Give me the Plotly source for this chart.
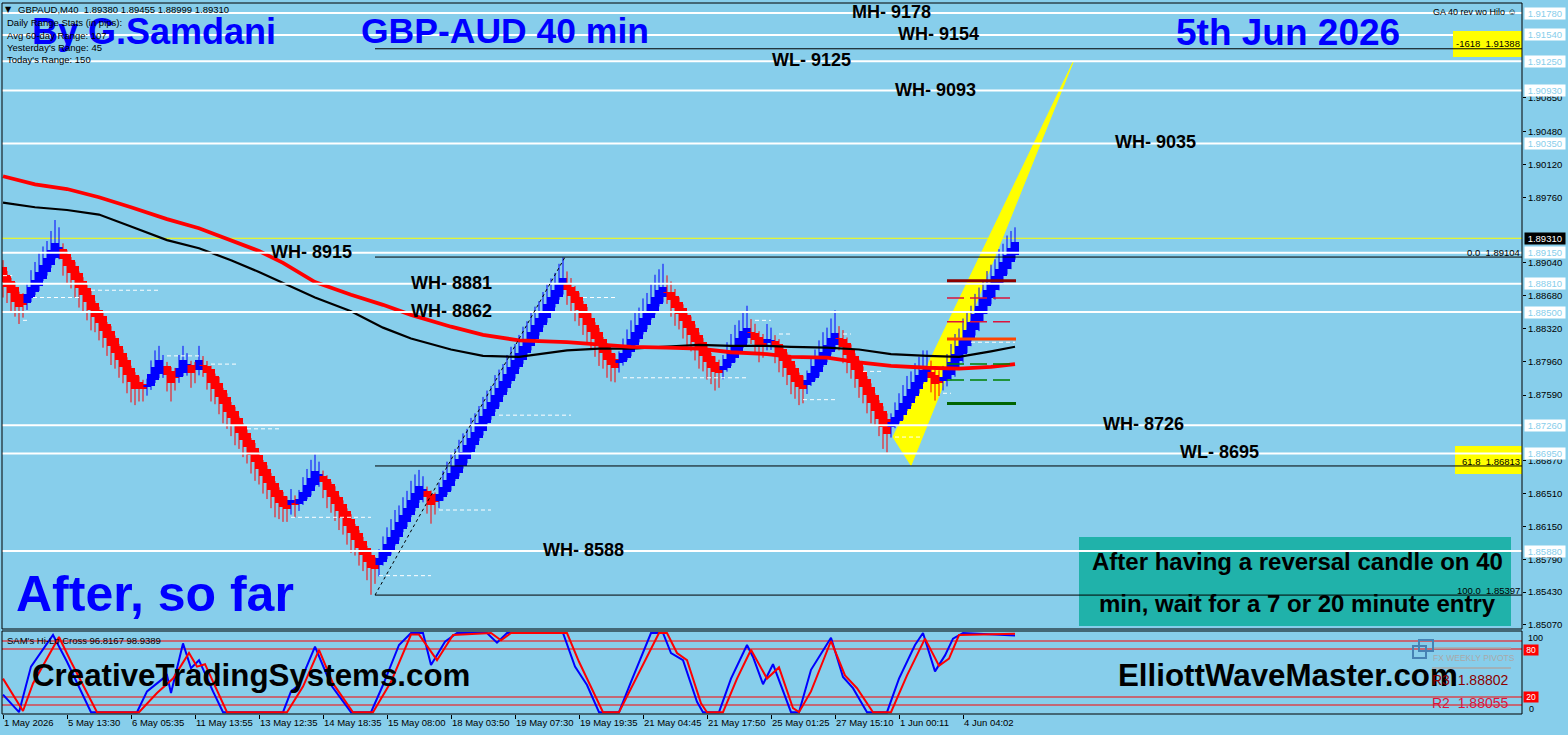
import plotly.graph_objects as go

W, H = 1568, 735

# ======================= DATA =======================
# x-axis (bar index) tick labels
tick_bars = [0, 16, 32, 48, 64, 80, 96, 112, 128, 144, 160, 176, 192, 208, 224, 240]
tick_labels = ["1 May 2026", "5 May 13:30", "6 May 05:35", "11 May 13:55", "13 May 12:35",
               "14 May 18:35", "15 May 08:00", "18 May 03:50", "19 May 07:30", "19 May 19:35",
               "21 May 04:45", "21 May 17:50", "25 May 01:25", "27 May 15:10", "1 Jun 00:11",
               "4 Jun 04:02"]

# Heiken-Ashi style candles, prices in pips above 1.00000 (8915 -> 1.89150)
ha_open_first = 8899
ha_close = [
    8883, 8878, 8871, 8861, 8856, 8858,
    8870, 8878, 8885, 8894, 8902, 8909, 8918, 8926, 8921,
    8908, 8901, 8893, 8885, 8876, 8869, 8861, 8852, 8845, 8838,
    8829, 8822, 8813, 8805, 8797, 8790, 8781, 8773, 8766,
    8768, 8766,
    8769, 8782, 8790, 8797, 8791,
    8781, 8772, 8778,
    8789, 8797, 8793,
    8783, 8786,
    8797,
    8791,
    8783, 8772, 8766, 8757, 8749, 8740, 8734, 8726, 8717, 8710,
    8702, 8693, 8686, 8678, 8670, 8663, 8655, 8647, 8641, 8636, 8634,
    8644, 8639,
    8645, 8653, 8660, 8668, 8676, 8672,
    8664, 8655, 8647, 8640, 8632, 8624, 8615, 8608, 8600, 8591, 8584, 8576, 8569, 8568,
    8580, 8588, 8596, 8603, 8611, 8620, 8627, 8635, 8644, 8652, 8659,
    8656,
    8647, 8638, 8642,
    8651, 8658, 8666, 8674, 8681, 8689, 8697, 8704, 8712, 8719,
    8728, 8736, 8744, 8751, 8759, 8767, 8774, 8782, 8790, 8797,
    8805, 8813, 8821, 8828, 8836, 8844, 8851, 8859, 8867, 8874,
    8882, 8887,
    8874, 8868, 8860, 8852, 8844, 8836, 8828, 8821, 8813, 8805, 8797, 8792, 8789,
    8797, 8805, 8813, 8821, 8828, 8836, 8844, 8851, 8859, 8867, 8874, 8878,
    8871, 8863, 8855, 8848, 8840, 8833, 8825, 8817, 8810, 8802, 8795, 8789, 8784, 8783,
    8791, 8799, 8806, 8814, 8822, 8829, 8833,
    8827, 8819, 8813, 8814,
    8821, 8819,
    8812, 8804, 8796, 8789, 8781, 8773, 8768, 8766,
    8776, 8783, 8791, 8799, 8806, 8814, 8822, 8827,
    8820, 8812, 8803, 8794, 8786, 8777, 8768, 8759, 8750, 8742, 8733, 8724, 8716,
    8729, 8735, 8743, 8750, 8758, 8766, 8773, 8781, 8786, 8790,
    8778, 8771, 8772,
    8779, 8786, 8795, 8804, 8813, 8822, 8830, 8839, 8848, 8857,
    8866, 8874, 8882, 8890, 8897, 8905, 8913, 8920, 8927,
]
# wick extent beyond the body (pips)
wick_up = [
    8, 4, 3, 5, 3, 8,
    12, 18, 20, 22, 20, 19, 21, 25, 22,
    6, 4, 3, 5, 2, 4, 3, 5, 2, 3, 4, 2, 5, 3, 2, 4, 3, 2, 3,
    6, 5,
    8, 15, 18, 16, 12,
    5, 4, 10,
    14, 16, 12,
    5, 8,
    16,
    10,
    5, 4, 3, 6, 2, 4, 3, 5, 2, 3, 4, 2, 5, 3, 2, 4, 3, 2, 3, 5, 6,
    12, 8,
    10, 16, 18, 20, 18, 14,
    6, 4, 3, 5, 2, 4, 3, 5, 2, 3, 4, 2, 3, 5,
    10, 16, 18, 20, 22, 18, 20, 19, 21, 20, 18,
    14,
    5, 4, 8,
    12, 18, 20, 22, 19, 21, 20, 18, 22, 20, 19, 21, 20, 18, 22, 20, 19, 21, 22, 18,
    20, 21, 19, 22, 20, 18, 21, 22, 20, 19, 21, 23,
    14, 10, 6, 5, 3, 4, 5, 3, 4, 2, 3, 5, 6,
    10, 16, 18, 20, 22, 19, 21, 20, 22, 24, 23, 25,
    18, 12, 8, 5, 4, 3, 5, 4, 3, 4, 5, 3, 6, 8,
    12, 18, 20, 22, 19, 21, 24,
    15, 10, 6, 8,
    16, 14,
    6, 5, 4, 3, 5, 4, 3, 6,
    10, 16, 18, 20, 22, 19, 21, 25,
    14, 10, 6, 5, 3, 4, 5, 3, 4, 2, 3, 5, 6,
    10, 16, 18, 20, 22, 19, 21, 20, 22, 18,
    12, 8, 10,
    12, 18, 20, 22, 19, 21, 20, 18, 22, 20, 19, 21, 20, 18, 22, 20, 21, 19, 16,
]
wick_dn = [
    17, 18, 20, 16, 19, 14,
    8, 4, 3, 5, 2, 4, 3, 2, 10,
    18, 20, 17, 19, 21, 18, 20, 22, 17, 19, 18, 20, 21, 17, 19, 18, 20, 22, 18,
    16, 14,
    10, 4, 3, 5, 12,
    18, 20, 14,
    6, 4, 10,
    16, 14,
    6,
    12,
    18, 20, 17, 19, 21, 18, 20, 22, 17, 19, 18, 20, 21, 17, 19, 18, 20, 22, 18, 16, 14,
    10, 14,
    8, 4, 3, 5, 2, 10,
    18, 20, 17, 19, 21, 18, 20, 22, 17, 19, 18, 20, 29, 16,
    12, 4, 3, 5, 2, 4, 3, 5, 2, 4, 3,
    10,
    18, 20, 14,
    8, 4, 3, 5, 2, 4, 3, 5, 2, 4, 3, 5, 2, 4, 3, 5, 2, 4, 3, 5,
    2, 4, 3, 5, 2, 4, 3, 5, 2, 4, 3, 5,
    16, 18, 20, 17, 19, 21, 18, 20, 22, 17, 19, 18, 16,
    10, 4, 3, 5, 2, 4, 3, 5, 2, 4, 3, 6,
    12, 18, 20, 17, 19, 21, 18, 20, 22, 17, 19, 18, 20, 16,
    10, 4, 3, 5, 2, 4, 6,
    12, 16, 18, 14,
    8, 10,
    18, 20, 17, 19, 21, 18, 20, 16,
    10, 4, 3, 5, 2, 4, 3, 6,
    12, 18, 20, 17, 19, 21, 18, 20, 22, 17, 19, 24, 20,
    12, 4, 3, 5, 2, 4, 3, 5, 2, 6,
    16, 18, 14,
    10, 8, 6, 9, 7, 10, 8, 9, 6, 10, 8, 9, 7, 10, 8, 9, 6, 8, 5,
]

# moving averages (sampled at bars)
ma_bars = [0, 8, 16, 24, 32, 41, 49, 57, 64, 70, 78, 87, 95, 102, 112, 120, 129, 141, 149,
           157, 166, 174, 182, 191, 197, 206, 214, 222, 231, 239, 247, 253]
ma_red = [8999, 8990, 8985, 8976, 8965, 8952, 8942, 8929, 8917, 8904, 8883, 8869, 8858, 8847,
          8834, 8825, 8819, 8817, 8814, 8812, 8811, 8810, 8806, 8804, 8801, 8800, 8795, 8791,
          8789, 8788, 8790, 8793]
ma_black = [8970, 8965, 8962, 8957, 8944, 8929, 8920, 8907, 8894, 8882, 8866, 8851, 8833, 8821,
            8809, 8802, 8801, 8808, 8810, 8810, 8812, 8814, 8813, 8813, 8812, 8811, 8809, 8804,
            8802, 8801, 8807, 8812]

# SAM's Hi-Lo Cross oscillator (turning points)
osc_blue_bar = [0, 4, 7, 12.5, 16, 18.5, 22, 33.5, 34.5, 36, 38.5, 41, 42, 45, 47, 49, 52.5, 55,
                70, 72, 74, 78, 82, 87, 92, 95, 99, 102, 105, 107, 110.5, 113.5, 121, 123.5, 126,
                140, 143, 146, 149, 154, 157, 162, 165, 167, 170, 173.5, 175, 179, 182, 186, 187.5,
                190, 192.5, 196, 197, 199, 202, 207, 210, 212.5, 216, 221, 224, 228, 230, 233,
                235.5, 237.5, 240, 253]
osc_blue_val = [23, 1, 58, 97.5, 64, 37, 1, 1, 12, 27, 37, 47, 25, 87, 56, 66, 27, 1,
                1, 27, 35, 83, 35, 1, 1, 35, 85, 100, 100, 60, 89, 100, 100, 88, 100,
                100, 58, 35, 1, 1, 39, 100, 100, 75, 66, 14, 1, 1, 43, 85, 70,
                36, 61, 14, 1, 1, 54, 94, 45, 31, 1, 1, 43, 85, 100, 52,
                72, 93, 100, 97]
osc_red_bar = [0, 5, 7.5, 14, 17, 23.5, 34, 38.5, 42.5, 46.5, 48.5, 50.5, 56, 71, 75, 79, 82.5,
               87.5, 92.5, 97, 102, 104, 108.5, 112.5, 122, 124.5, 127, 141, 144, 147.5, 150, 154,
               157.5, 164, 166, 168.5, 171, 174.5, 176, 180, 183.5, 187, 191, 194, 197.5, 199,
               202, 207, 210.5, 213.5, 217.5, 222, 226, 230.5, 234, 236.5, 239, 253]
osc_red_val = [43, 2.5, 37, 95, 64, 1, 1, 25, 43, 75, 58, 61, 1, 1, 33, 79, 37,
               1, 1, 39, 98, 98, 66, 97.5, 100, 91, 100, 100, 64, 27, 1, 1,
               35, 100, 100, 75, 66, 12, 1, 1, 43, 79, 43, 57, 6, 1,
               27, 90, 47, 31, 1, 1, 47, 93, 59, 68, 97.5, 99]
osc_levels = [90, 80, 20, 10]

# horizontal levels (pips)
white_levels = [9178, 9154, 9125, 9093, 9035, 8915, 8881, 8850, 8726, 8695, 8588]
wave_names = ["MH- 9178", "WH- 9154", "WL- 9125", "WH- 9093", "WH- 9035", "WH- 8915",
              "WH- 8881", "WH- 8862", "WH- 8726", "WL- 8695", "WH- 8588"]
current_price = 8931
axis_ticks = [9085, 9048, 9012, 8976, 8904, 8868, 8832, 8796, 8759, 8687,
              8651, 8615, 8579, 8543, 8507]

# Fibonacci
fib_names = ["-1618", "0.0", "61.8", "100.0"]
fib_levels = [9138.8, 8910.4, 8681.3, 8539.7]
fib_low_bar, fib_high_bar = 93, 140.5

# yellow triangle
tri_bars = [222.5, 227, 267.5]
tri_levels = [8713, 8682, 9124]

# short white dashed swing levels
swing_start = [0, 5, 7.5, 22, 41, 52, 61, 72, 94, 109, 124, 145, 155, 188, 194, 200, 210, 215,
               223, 235, 242]
swing_end = [2.3, 6, 19, 39, 49, 59, 69, 92, 107, 122, 142, 153, 186, 192, 197, 208, 212, 220,
             230, 237, 253]
swing_level = [8890, 8841, 8866, 8874, 8802, 8793, 8722, 8625, 8561, 8633, 8737, 8866, 8778,
               8841, 8826, 8754, 8826, 8785, 8713, 8761, 8817]

# pivot levels at the right
pivot_levels = [8884.5, 8865.5, 8839.4, 8820.6, 8793.1, 8775.6, 8749.7]
pivot_colors = ["#8B0000", "#DC143C", "#DC143C", "#FF4500", "#008000", "#008000", "#006400"]
pivot_solid = [True, False, False, True, False, False, True]
pivot_from_bar, pivot_to_bar = 236, 253.25

# ======================= HELPERS =======================
def P(v):
    return 1.0 + v / 10000.0

def fx(x):
    return x / W

def fy(y):
    return 1 - y / H

X0, X1 = -0.25, 379.75
FN = "Liberation Sans, Arial"
FB = "Liberation Sans, Arial"
SKY = "#87CEEB"
SM = 9.5

# ======================= CANDLES =======================
n = len(ha_close)
ha_open = [ha_open_first]
for i in range(1, n):
    ha_open.append((ha_open[-1] + ha_close[i - 1]) / 2.0)

bases, lens, cols = [], [], []
wick = {"b": ([], []), "r": ([], [])}
for i in range(n):
    o, c = ha_open[i], ha_close[i]
    up = c >= o
    lo_b, hi_b = min(o, c), max(o, c)
    bases.append(P(lo_b))
    lens.append(max(hi_b - lo_b, 1.2) / 10000.0)
    cols.append("#0000FF" if up else "#FF0000")
    k = "b" if up else "r"
    wick[k][0].extend([i, i, None])
    wick[k][1].extend([P(lo_b - wick_dn[i]), P(hi_b + wick_up[i]), None])

fig = go.Figure()
fig.add_trace(go.Scatter(x=wick["r"][0], y=wick["r"][1], mode="lines",
                         line=dict(color="#FF0000", width=1), hoverinfo="skip"))
fig.add_trace(go.Scatter(x=wick["b"][0], y=wick["b"][1], mode="lines",
                         line=dict(color="#0000FF", width=1), hoverinfo="skip"))
fig.add_trace(go.Bar(x=list(range(n)), base=bases, y=lens, width=1.9,
                     marker=dict(color=cols, line=dict(width=0)), hoverinfo="skip"))
fig.add_trace(go.Scatter(x=ma_bars, y=[P(v) for v in ma_black], mode="lines",
                         line=dict(color="#000000", width=2.2), hoverinfo="skip"))
fig.add_trace(go.Scatter(x=ma_bars, y=[P(v) for v in ma_red], mode="lines",
                         line=dict(color="#FF0000", width=3.8), hoverinfo="skip"))

# oscillator
fig.add_trace(go.Scatter(x=osc_blue_bar, y=osc_blue_val, mode="lines", yaxis="y2",
                         line=dict(color="#0000FF", width=2), hoverinfo="skip"))
fig.add_trace(go.Scatter(x=osc_red_bar, y=osc_red_val, mode="lines", yaxis="y2",
                         line=dict(color="#FF0000", width=2), hoverinfo="skip"))

# ======================= SHAPES =======================
shapes = []
shapes.append(dict(type="rect", xref="paper", yref="paper", x0=fx(1079), x1=fx(1511),
                   y0=fy(626), y1=fy(537), fillcolor="#20B2AA", line=dict(width=0), layer="below"))
path = "M {},{} L {},{} L {},{} Z".format(tri_bars[0], P(tri_levels[0]), tri_bars[1], P(tri_levels[1]),
                                          tri_bars[2], P(tri_levels[2]))
shapes.append(dict(type="path", xref="x", yref="y", path=path, fillcolor="#FFFF00",
                   line=dict(color="#FFFF00", width=1), layer="below"))
shapes.append(dict(type="line", xref="x", yref="y", x0=X0, x1=X1, y0=P(current_price),
                   y1=P(current_price), line=dict(color="#FFFF00", width=1), layer="below"))
for lv in osc_levels:
    shapes.append(dict(type="line", xref="x", yref="y2", x0=X0, x1=X1, y0=lv, y1=lv,
                       line=dict(color="#FF0000", width=1), layer="below"))
shapes.append(dict(type="rect", xref="paper", yref="paper", x0=fx(1455), x1=fx(1522),
                   y0=fy(474), y1=fy(446), fillcolor="#FFFF00", line=dict(width=0)))
for lv in white_levels:
    shapes.append(dict(type="line", xref="x", yref="y", x0=X0, x1=X1, y0=P(lv), y1=P(lv),
                       line=dict(color="#FFFFFF", width=2)))
shapes.append(dict(type="rect", xref="paper", yref="paper", x0=fx(1453), x1=fx(1522),
                   y0=fy(57), y1=fy(31), fillcolor="#FFFF00", line=dict(width=0)))
for lv in fib_levels:
    shapes.append(dict(type="line", xref="x", yref="y", x0=fib_low_bar, x1=X1, y0=P(lv), y1=P(lv),
                       line=dict(color="#000000", width=1)))
shapes.append(dict(type="line", xref="x", yref="y", x0=fib_low_bar, x1=fib_high_bar,
                   y0=P(fib_levels[3]), y1=P(fib_levels[1]),
                   line=dict(color="#000000", width=1, dash="dot")))
for a, b, lv in zip(swing_start, swing_end, swing_level):
    shapes.append(dict(type="line", xref="x", yref="y", x0=a, x1=b, y0=P(lv), y1=P(lv),
                       line=dict(color="#FFFFFF", width=1, dash="4px,3px")))
for lv, colr, solid in zip(pivot_levels, pivot_colors, pivot_solid):
    shapes.append(dict(type="line", xref="x", yref="y", x0=pivot_from_bar,
                       x1=pivot_to_bar if solid else pivot_to_bar - 0.8, y0=P(lv), y1=P(lv),
                       line=dict(color=colr, width=3 if solid else 1.5,
                                 dash="solid" if solid else "17px,6px")))
shapes.append(dict(type="line", xref="paper", yref="paper", x0=fx(1432), x1=fx(1511),
                   y0=fy(648), y1=fy(648), line=dict(color="#A9A9A9", width=1.5)))
shapes.append(dict(type="line", xref="paper", yref="paper", x0=fx(1432), x1=fx(1511),
                   y0=fy(668), y1=fy(668), line=dict(color="#A9A9A9", width=1.5)))
shapes.append(dict(type="rect", xref="paper", yref="paper", x0=fx(1419), x1=fx(1433),
                   y0=fy(651), y1=fy(640), line=dict(color="#4682B4", width=2)))
shapes.append(dict(type="rect", xref="paper", yref="paper", x0=fx(1413), x1=fx(1426),
                   y0=fy(658), y1=fy(646), line=dict(color="#4682B4", width=2)))
shapes.append(dict(type="rect", xref="paper", yref="paper", x0=fx(2), x1=fx(1522),
                   y0=fy(629), y1=fy(3), line=dict(color="#000000", width=1)))
shapes.append(dict(type="rect", xref="paper", yref="paper", x0=fx(2), x1=fx(1522),
                   y0=fy(714), y1=fy(631), line=dict(color="#000000", width=1)))

# ======================= ANNOTATIONS =======================
ann = []

def A(text, x, y, size, color="#000000", family=FN, xanchor="left", bold=False, bg=None,
      xref="paper", yref="paper", yshift=0):
    t = "<b>" + text + "</b>" if bold else text
    d = dict(text=t, x=x, y=y, xref=xref, yref=yref, xanchor=xanchor, yanchor="middle",
             showarrow=False, font=dict(family=family, size=size, color=color),
             borderpad=0, yshift=yshift)
    if bg:
        d["bgcolor"] = bg
    ann.append(d)

A("By G.Samdani", fx(31), fy(31), 36, "#0000FF", FB, bold=True)
A("GBP-AUD 40 min", fx(360), fy(31), 35.5, "#0000FF", FB, bold=True)
A("5th Jun 2026", fx(1175), fy(32), 37, "#0000FF", FB, bold=True)
A("After, so far", fx(15), fy(594), 50, "#0000FF", FB, bold=True)
A("CreativeTradingSystems.com", fx(31), fy(675), 31.3, "#000000", FB, bold=True)
A("ElliottWaveMaster.com", fx(1117), fy(675), 31.3, "#000000", FB, bold=True)
A("After having a reversal candle on 40", fx(1297), fy(561), 24, "#000000", FB,
  xanchor="center", bold=True)
A("min, wait for a 7 or 20 minute entry", fx(1297), fy(603), 24, "#000000", FB,
  xanchor="center", bold=True)

wave_xc = [891, 939, 811, 935, 1155, 311, 451, 451, 1143, 1219, 583]
for name, lv, xc in zip(wave_names, white_levels, wave_xc):
    A(name, fx(xc), P(lv), 18, "#000000", FB, xanchor="center", bold=True, yref="y", yshift=1)

A("\u25BC", fx(4), fy(9), 8, "#000000", "DejaVu Sans")
A("GBPAUD,M40  1.89380 1.89455 1.88999 1.89310", fx(17), fy(9), SM)
A("Daily Range Stats (in pips):", fx(6), fy(23), SM)
A("Avg 60-day Range: 107", fx(6), fy(35), SM)
A("Yesterday's Range: 45", fx(6), fy(47), SM)
A("Today's Range: 150", fx(6), fy(60), SM)
A("GA 40 rev wo Hilo \u263A", fx(1518), fy(12), 9, xanchor="right")
A("SAM's Hi-Lo Cross 96.8167 98.9389", fx(6), fy(640), SM)

fib_label_y = [44, 252, 461, 590]
for nm, lv, ly in zip(fib_names, fib_levels, fib_label_y):
    A("{}  {:.5f}".format(nm, P(lv)), fx(1521), fy(ly), SM, xanchor="right")

for lv in white_levels:
    A(" {:.5f} ".format(P(lv)), fx(1524), P(lv), SM, SKY, bg="#FFFFFF", yref="y")
A(" {:.5f} ".format(P(current_price)), fx(1524), P(current_price), SM, "#FFFFFF",
  bg="#000000", yref="y")

A(" 80 ", fx(1523), fy(650), 8.5, "#FFFFFF", bg="#FF0000")
A(" 20 ", fx(1523), fy(697), 8.5, "#FFFFFF", bg="#FF0000")
A("100", fx(1527), fy(638), 9)
A("0", fx(1528), fy(709), 9)

A("FX WEEKLY PIVOTS", fx(1432), fy(658), 8.5, "#A9A9A9")
A("R3  1.88802", fx(1431), fy(680), 14, "#8B0000")
A("R2  1.88055", fx(1431), fy(703), 14, "#DC143C")

for b, lab in zip(tick_bars, tick_labels):
    A(lab, b, fy(722), SM, xref="x")

fig.update_layout(
    width=W, height=H, autosize=False,
    margin=dict(l=0, r=0, t=0, b=0, pad=0),
    paper_bgcolor=SKY, plot_bgcolor=SKY,
    showlegend=False, barmode="overlay", bargap=0,
    shapes=shapes, annotations=ann,
    xaxis=dict(domain=[fx(2), fx(1522)], range=[X0, X1], anchor="y2", showgrid=False,
               zeroline=False, showline=False, tickmode="array", tickvals=tick_bars,
               ticks="outside", ticklen=4, tickcolor="#000000", showticklabels=False,
               fixedrange=True, automargin=False),
    yaxis=dict(domain=[fy(629), fy(3)], range=[P(8502.5), P(9189.0)], anchor="x",
               side="right", showgrid=False, zeroline=False, showline=False,
               tickmode="array", tickvals=[P(v) for v in axis_ticks],
               ticktext=["{:.5f}".format(P(v)) for v in axis_ticks],
               ticks="outside", ticklen=3, tickcolor="#000000",
               tickfont=dict(family=FN, size=SM, color="#000000"),
               fixedrange=True, automargin=False),
    yaxis2=dict(domain=[fy(714), fy(631)], range=[-1.25, 102.5], anchor="x",
                showgrid=False, zeroline=False, showline=False, showticklabels=False,
                fixedrange=True, automargin=False),
)

fig.write_html("out.html", config={"displayModeBar": False, "staticPlot": True},
               post_script="document.body.style.margin='0';document.body.style.overflow='hidden';")
